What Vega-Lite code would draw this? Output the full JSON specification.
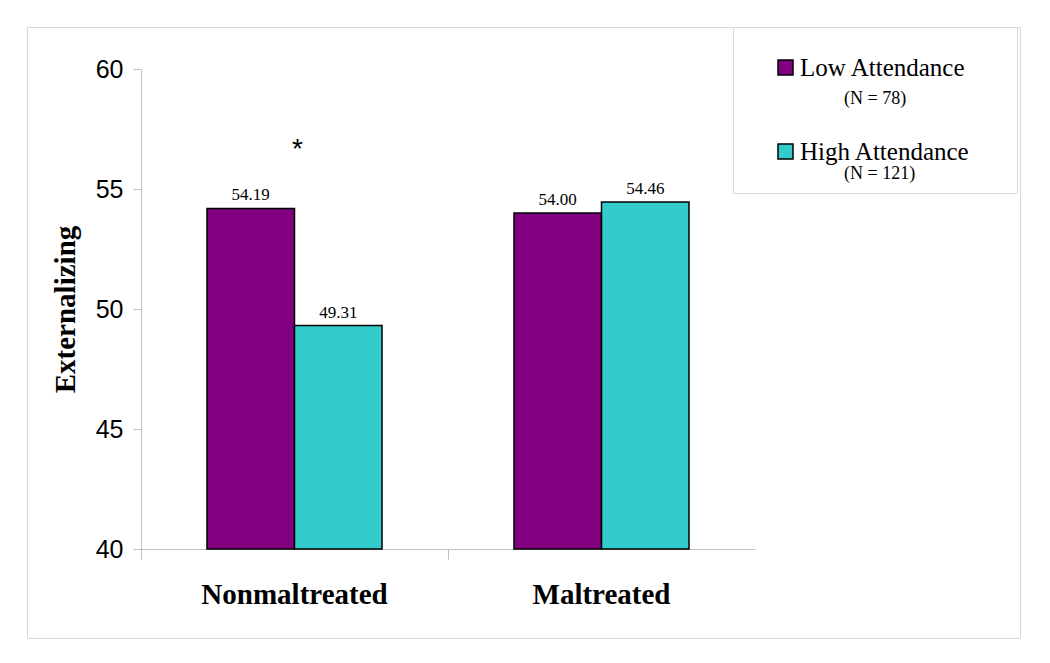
{
  "$schema": "https://vega.github.io/schema/vega-lite/v6.json",
  "width": 993,
  "height": 611,
  "autosize": {"type": "none"},
  "padding": {"left": 27, "top": 27, "right": 30, "bottom": 25},
  "background": "white",
  "config": {"view": {"stroke": "#d9d9d9", "strokeWidth": 1}},
  "data": {
    "values": [
      {"group": "Nonmaltreated", "attendance": "Low Attendance", "n": "(N = 78)", "value": 54.19},
      {"group": "Nonmaltreated", "attendance": "High Attendance", "n": "(N = 121)", "value": 49.31},
      {"group": "Maltreated", "attendance": "Low Attendance", "n": "(N = 78)", "value": 54.00},
      {"group": "Maltreated", "attendance": "High Attendance", "n": "(N = 121)", "value": 54.46}
    ]
  },
  "layer": [
    {
      "mark": {"type": "bar", "stroke": "black", "strokeWidth": 1.5},
      "encoding": {
        "x": {
          "field": "group", "type": "nominal", "sort": ["Nonmaltreated", "Maltreated"],
          "scale": {"range": [114, 728], "paddingInner": 0, "paddingOuter": 0},
          "axis": {
            "orient": "bottom", "offset": -89, "title": null,
            "domainColor": "#c0c0c0", "tickColor": "#c0c0c0", "tickSize": 10,
            "bandPosition": 0, "labelAngle": 0, "labelLimit": 400,
            "labelFont": "Liberation Serif", "labelFontWeight": "bold", "labelFontSize": 29,
            "labelColor": "black", "labelPadding": 21
          }
        },
        "xOffset": {
          "field": "attendance", "type": "nominal", "sort": ["Low Attendance", "High Attendance"],
          "scale": {"paddingInner": 0, "paddingOuter": 0.754}
        },
        "y": {
          "field": "value", "type": "quantitative",
          "scale": {"domain": [40, 60], "range": [522, 42], "zero": false, "nice": false},
          "axis": {
            "orient": "left", "offset": -114, "values": [40, 45, 50, 55, 60], "grid": false,
            "domainColor": "#c0c0c0", "tickColor": "#c0c0c0", "tickSize": 8,
            "labelFont": "Liberation Sans", "labelFontSize": 25, "labelColor": "black", "labelPadding": 10,
            "title": "Externalizing", "titleFont": "Liberation Serif", "titleFontWeight": "bold",
            "titleFontSize": 29, "titleColor": "black", "titlePadding": 15
          }
        },
        "y2": {"datum": 40},
        "fill": {
          "field": "attendance", "type": "nominal",
          "scale": {"domain": ["Low Attendance", "High Attendance"], "range": ["#800080", "#33cccc"]},
          "legend": {
            "orient": "none", "legendX": 706, "legendY": 0, "title": null,
            "padding": 28, "strokeColor": "#d9d9d9", "fillColor": "white",
            "symbolType": "square", "symbolSize": 225, "symbolStrokeColor": "black", "symbolStrokeWidth": 1.5,
            "symbolOffset": 12, "labelOffset": 2,
            "labelFont": "Liberation Serif", "labelFontSize": 25, "labelColor": "black",
            "labelExpr": "datum.label + '\u2800'", "labelLimit": 400,
            "rowPadding": 58
          }
        },
        "opacity": {
          "field": "n", "type": "nominal",
          "scale": {"domain": ["(N = 78)", "(N = 121)"], "range": [1, 1]},
          "legend": {
            "orient": "none", "legendX": 799, "legendY": 63, "title": null, "padding": 0,
            "symbolSize": 0, "symbolOpacity": 0, "symbolStrokeWidth": 0, "labelOffset": 0,
            "labelFont": "Liberation Serif", "labelFontSize": 18, "labelColor": "black",
            "rowPadding": 57
          }
        }
      }
    },
    {
      "mark": {"type": "text", "font": "Liberation Serif", "fontSize": 17, "baseline": "alphabetic", "dy": -8, "color": "black"},
      "encoding": {
        "x": {"field": "group", "type": "nominal", "sort": ["Nonmaltreated", "Maltreated"]},
        "xOffset": {"field": "attendance", "type": "nominal", "sort": ["Low Attendance", "High Attendance"]},
        "y": {"field": "value", "type": "quantitative"},
        "text": {"field": "value", "type": "quantitative", "format": ".2f"}
      }
    },
    {
      "data": {"values": [{"group": "Nonmaltreated", "mark": "*"}]},
      "mark": {"type": "text", "font": "Liberation Sans", "fontSize": 28, "baseline": "alphabetic", "dx": 3, "color": "black"},
      "encoding": {
        "x": {"field": "group", "type": "nominal", "sort": ["Nonmaltreated", "Maltreated"]},
        "y": {"datum": 56.3, "type": "quantitative"},
        "text": {"field": "mark", "type": "nominal"}
      }
    }
  ]
}
